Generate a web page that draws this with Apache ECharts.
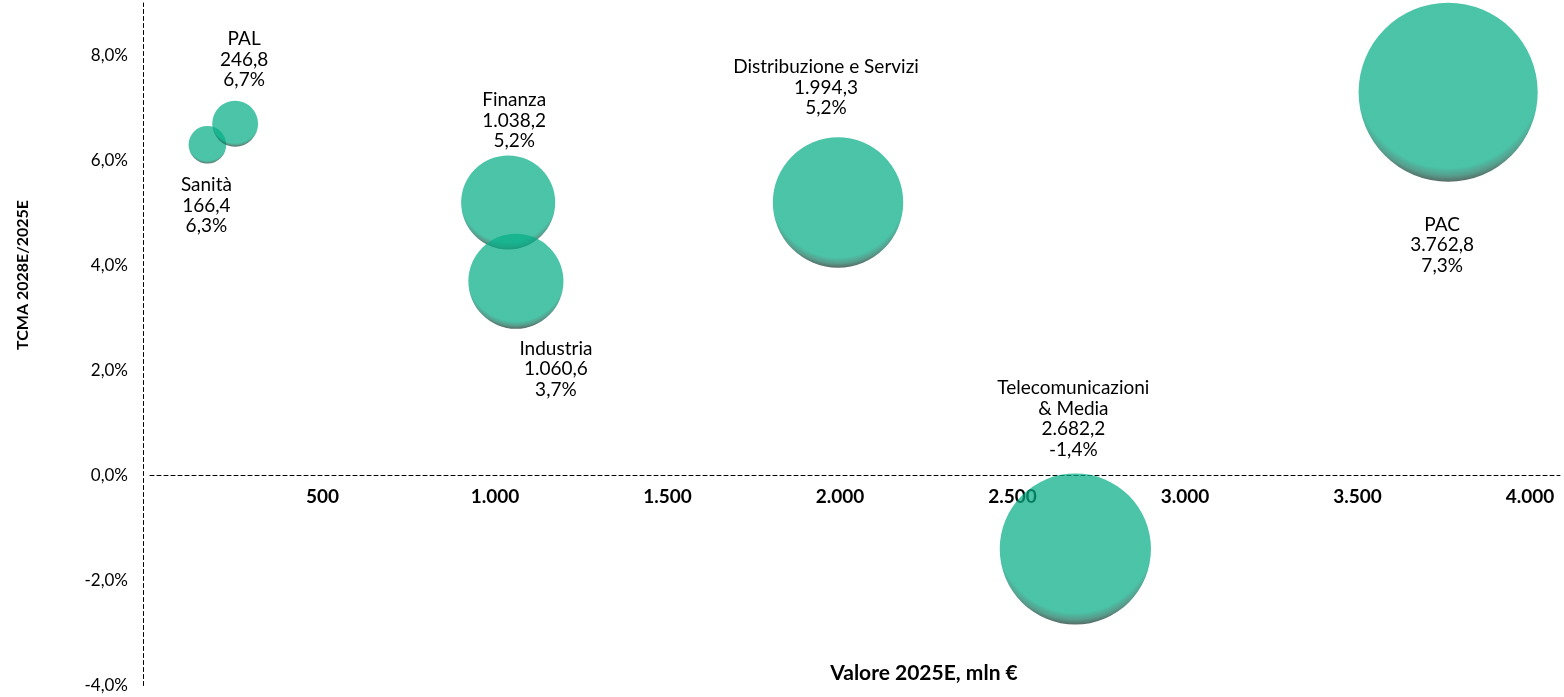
<!DOCTYPE html>
<html>
<head>
<meta charset="utf-8">
<script src="https://cdn.jsdelivr.net/npm/echarts@6/dist/echarts.min.js"></script>
<style>
html,body{margin:0;padding:0;background:#fff;}
#chart{width:1564px;height:697px;}
</style>
</head>
<body>
<div id="chart"></div>
<script>
// ---- data ----
const settori = ['Sanità', 'PAL', 'Finanza', 'Industria', 'Distribuzione e Servizi', 'Telecomunicazioni\n& Media', 'PAC'];
const valore2025 = [166.4, 246.8, 1038.2, 1060.6, 1994.3, 2682.2, 3762.8];
const tcma = [6.3, 6.7, 5.2, 3.7, 5.2, -1.4, 7.3];
const xTickStep = 500;
const yTickStep = 2;
const xTitle = 'Valore 2025E, mln €';
const yTitle = 'TCMA 2028E/2025E';

// ---- helpers ----
function itNum(v, dec) {
  const s = Math.abs(v).toFixed(dec).split('.');
  const int = s[0].replace(/\B(?=(\d{3})+(?!\d))/g, '.');
  return (v < 0 ? '-' : '') + int + (dec ? ',' + s[1] : '');
}

// label placement relative to bubble centre (styling)
const labelOffsets = [[-1, 61], [9, -64], [6, -82], [40, 88], [-12, -115], [-2, -130], [-6, 153]];

const FONT = 'Lato';
const chart = echarts.init(document.getElementById('chart'));

const A = 0.72;
const teal = 'rgba(5,173,134,' + A + ')';
const bubbleFill = new echarts.graphic.RadialGradient(0.5, 0.4, 0.6, [
  { offset: 0, color: teal },
  { offset: 0.87, color: teal },
  { offset: 0.945, color: 'rgba(22,118,95,' + A + ')' },
  { offset: 1, color: 'rgba(20,50,42,' + A + ')' }
]);

const X_MIN = 0, X_MAX = 4087, Y_MIN = -4, Y_MAX = 9;
const dashed = { color: '#000', type: [4, 3], width: 1 };

const option = {
  animation: false,
  grid: [
    { left: 150, right: 4, top: 3, bottom: 11.5, containLabel: false, outerBoundsMode: 'none' },
    // helper grid whose bottom edge sits on y = 0, carrying the x axis labels
    { left: 150, right: 4, top: 3, bottom: 221.5, containLabel: false, outerBoundsMode: 'none' }
  ],
  xAxis: [
    { type: 'value', gridIndex: 0, min: X_MIN, max: X_MAX, interval: xTickStep, show: false },
    {
      type: 'value', gridIndex: 1, min: X_MIN, max: X_MAX, interval: xTickStep,
      position: 'bottom',
      axisLine: { show: true, onZero: false, lineStyle: dashed },
      axisTick: { show: false },
      splitLine: { show: false },
      axisLabel: {
        showMinLabel: false,
        showMaxLabel: false,
        margin: 12,
        color: '#000',
        fontFamily: FONT,
        fontWeight: 'bold',
        fontSize: 19,
        formatter: v => itNum(v, 0)
      }
    }
  ],
  yAxis: [
    {
      type: 'value', gridIndex: 0,
      min: Y_MIN, max: Y_MAX, interval: yTickStep,
      offset: 7,
      axisLine: { show: true, onZero: false, lineStyle: dashed },
      axisTick: { show: false },
      splitLine: { show: false },
      axisLabel: {
        showMaxLabel: false,
        margin: 15,
        color: '#000',
        fontFamily: FONT,
        fontSize: 17,
        formatter: v => itNum(v, 1) + '%'
      }
    },
    { type: 'value', gridIndex: 1, min: 0, max: Y_MAX, show: false }
  ],
  graphic: [
    {
      type: 'text', x: 924, y: 673,
      style: { text: xTitle, fill: '#000', font: 'bold 21px ' + FONT, align: 'center', verticalAlign: 'middle' }
    },
    {
      type: 'text', x: 22.5, y: 275, rotation: Math.PI / 2,
      style: { text: yTitle, fill: '#000', font: 'bold 16px ' + FONT, align: 'center', verticalAlign: 'middle' }
    }
  ],
  series: [{
    type: 'scatter',
    xAxisIndex: 0,
    yAxisIndex: 0,
    data: valore2025.map((v, i) => ({
      name: settori[i],
      value: [v, tcma[i]],
      label: { offset: labelOffsets[i] }
    })),
    symbolSize: val => 2 * 1.46 * Math.sqrt(val[0]),
    itemStyle: { color: bubbleFill, opacity: 1 },
    emphasis: { disabled: true },
    label: {
      show: true,
      position: 'inside',
      color: '#000',
      fontFamily: FONT,
      fontSize: 19,
      lineHeight: 20.5,
      align: 'center',
      formatter: p => settori[p.dataIndex] + '\n' + itNum(valore2025[p.dataIndex], 1) + '\n' + itNum(tcma[p.dataIndex], 1) + '%'
    }
  }]
};
chart.setOption(option);
</script>
</body>
</html>
